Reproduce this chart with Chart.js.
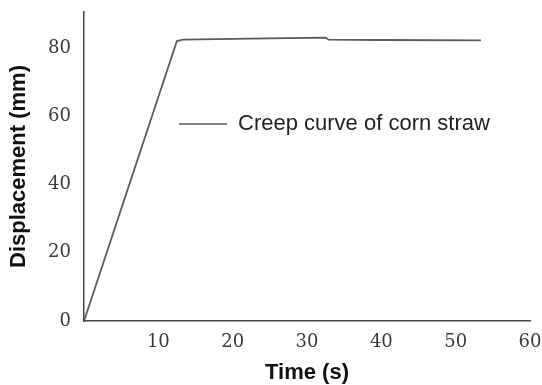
<!DOCTYPE html>
<html>
<head>
<meta charset="utf-8">
<script src="https://cdn.jsdelivr.net/npm/chart.js@4"></script>
<style>
  html, body { margin: 0; padding: 0; background: #fff; }
  #wrap { width: 542px; height: 385px; }
</style>
</head>
<body>
<div id="wrap"><canvas id="creepChart"></canvas></div>
<script>
// creep test of corn straw: time (s) vs displacement (mm)
const timeS = [0, 12.5, 13.3, 20, 32.5, 32.9, 40, 53.4];
const displacementMm = [0, 82.0, 82.4, 82.6, 83.0, 82.4, 82.3, 82.2];
const xTicks = [10, 20, 30, 40, 50, 60];
const yTicks = [0, 20, 40, 60, 80];
const seriesLabel = 'Creep curve of corn straw';

const points = timeS.map((t, i) => ({ x: t, y: displacementMm[i] }));

// legend sits inside the plot area, so draw it by hand
const insideLegend = {
    id: 'insideLegend',
    afterDraw(chart) {
        const { ctx, chartArea } = chart;
        const ds = chart.data.datasets[0];
        const y = chartArea.top + 112;
        ctx.save();
        ctx.strokeStyle = ds.borderColor;
        ctx.lineWidth = 1.5;
        ctx.beginPath();
        ctx.moveTo(chartArea.left + 95, y);
        ctx.lineTo(chartArea.left + 143, y);
        ctx.stroke();
        ctx.fillStyle = '#222';
        ctx.font = '22px "Liberation Sans", Arial, sans-serif';
        ctx.textBaseline = 'middle';
        ctx.fillText(ds.label, chartArea.left + 154, y);
        ctx.restore();
    }
};

const tickFont = { family: '"DejaVu Serif", serif', size: 18 };
const titleFont = { family: '"Liberation Sans", Arial, sans-serif', size: 22, weight: 'bold', lineHeight: 1 };

new Chart(document.getElementById('creepChart').getContext('2d'), {
    type: 'line',
    data: {
        datasets: [{
            label: seriesLabel,
            data: points,
            borderColor: '#5a5a5a',
            borderWidth: 1.8,
            pointRadius: 0,
            tension: 0,
            fill: false
        }]
    },
    options: {
        responsive: true,
        maintainAspectRatio: false,
        animation: false,
        layout: { padding: { left: 4, right: 12, top: 12, bottom: 0 } },
        plugins: {
            legend: { display: false },
            tooltip: { enabled: false }
        },
        scales: {
            x: {
                type: 'linear',
                min: 0,
                max: 60,
                afterBuildTicks: scale => { scale.ticks = xTicks.map(v => ({ value: v })); },
                afterFit: scale => {
                    scale.height = 64;
                    scale.paddingLeft = 0;
                    scale.paddingRight = 0;
                },
                grid: { drawOnChartArea: false, drawTicks: false },
                border: { color: '#444', width: 1.5 },
                ticks: { font: tickFont, color: '#3a3a3a', padding: 11, maxRotation: 0 },
                title: { display: true, text: 'Time (s)', font: titleFont, color: '#111', padding: { top: 0, bottom: 1 } }
            },
            y: {
                min: 0,
                max: 90.5,
                afterBuildTicks: scale => { scale.ticks = yTicks.map(v => ({ value: v })); },
                afterFit: scale => {
                    scale.width = 80;
                    scale.paddingTop = 0;
                    scale.paddingBottom = 0;
                },
                grid: { drawOnChartArea: false, drawTicks: false },
                border: { color: '#444', width: 1.5 },
                ticks: { font: tickFont, color: '#3a3a3a', padding: 13 },
                title: { display: true, text: 'Displacement (mm)', font: titleFont, color: '#111', padding: { top: 4, bottom: 0 } }
            }
        }
    },
    plugins: [insideLegend]
});
</script>
</body>
</html>
